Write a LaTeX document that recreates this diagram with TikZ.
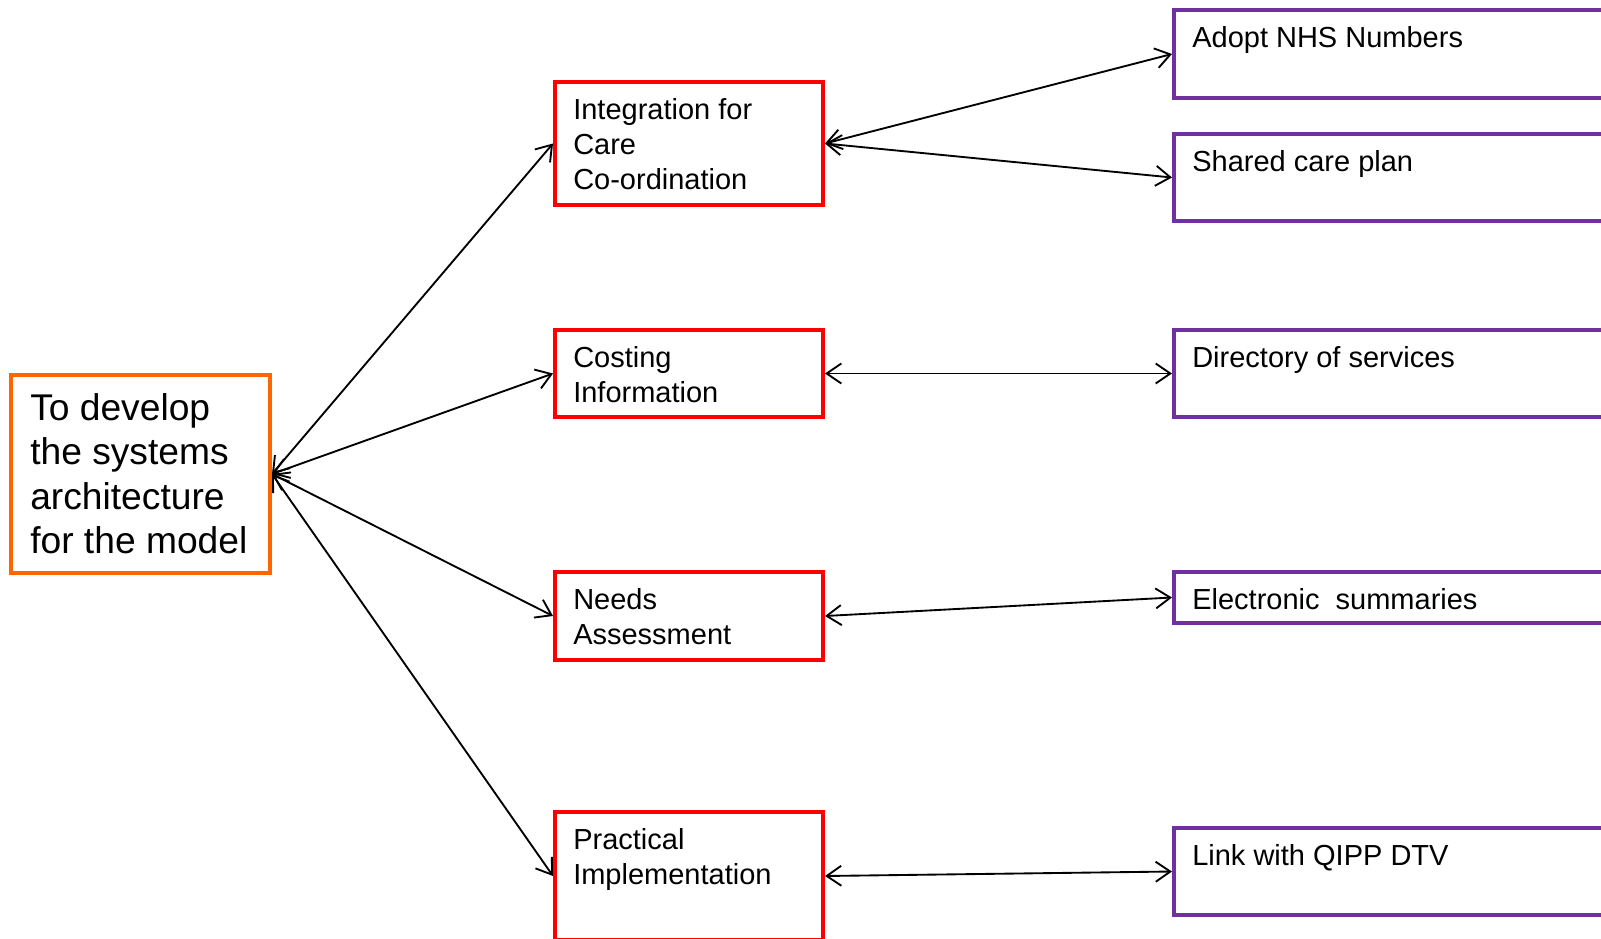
\documentclass[tikz,border=0pt]{standalone}
\usepackage{fontspec}
\setmainfont{Liberation Sans}
\usepackage{tikz}
\usetikzlibrary{arrows.meta}

\definecolor{goalorange}{RGB}{255,102,0}
\definecolor{areared}{RGB}{255,0,0}
\definecolor{taskpurple}{RGB}{112,48,160}

\tikzset{
	goalbox/.style={draw=goalorange, line width=3pt, minimum width=194.25pt, minimum height=148.5pt, anchor=north west},
	areabox/.style={draw=areared, line width=3pt, minimum width=201pt, anchor=north west},
	taskbox/.style={draw=taskpurple, line width=3pt, minimum width=394.5pt, anchor=north west},
	boxtext/.style={anchor=north west, align=left, inner sep=0pt, xshift=15pt, yshift=-13.5pt, font=\fontsize{21.75}{26.25}\selectfont},
	goaltext/.style={anchor=north west, align=left, inner sep=0pt, xshift=15.75pt, yshift=-15pt, font=\fontsize{27.9}{33.4}\selectfont},
	link/.style={{Straight Barb[length=11pt,width=15pt]}-{Straight Barb[length=11pt,width=15pt]}, line width=1.4pt}
}

\begin{document}
\begin{tikzpicture}[x=0.75pt, y=-0.75pt]
	\useasboundingbox (0,0) rectangle (1601,938);
	\node[goalbox, label={[goaltext]north west:{To develop\\the systems\\architecture\\for the model}}] (goal) at (9,373) {};
	\node[areabox, minimum height=92.25pt, label={[boxtext]north west:{Integration for\\Care\\Co-ordination}}] (integ) at (553,80) {};
	\node[areabox, minimum height=65.25pt, label={[boxtext]north west:{Costing\\Information}}] (cost) at (553,328) {};
	\node[areabox, minimum height=66pt, label={[boxtext]north west:{Needs\\Assessment}}] (needs) at (553,570) {};
	\node[areabox, minimum height=96pt, label={[boxtext]north west:{Practical\\Implementation}}] (pract) at (553,810) {};
	\node[taskbox, minimum height=66pt, label={[boxtext]north west:{Adopt NHS Numbers}}] (nhs) at (1172,8) {};
	\node[taskbox, minimum height=65.25pt, label={[boxtext]north west:{Shared care plan}}] (plan) at (1172,132) {};
	\node[taskbox, minimum height=65.25pt, label={[boxtext]north west:{Directory of services}}] (dir) at (1172,328) {};
	\node[taskbox, minimum height=38.25pt, label={[boxtext]north west:{Electronic~~summaries}}] (elec) at (1172,570) {};
	\node[taskbox, minimum height=65.25pt, label={[boxtext]north west:{Link with QIPP DTV}}] (qipp) at (1172,826) {};
	\draw[link] (goal.east) -- (integ.west);
	\draw[link] (goal.east) -- (cost.west);
	\draw[link] (goal.east) -- (needs.west);
	\draw[link] (goal.east) -- (pract.west);
	\draw[link] (integ.east) -- (nhs.west);
	\draw[link] (integ.east) -- (plan.west);
	\draw[link] (cost.east) -- (dir.west);
	\draw[link] (needs.east) -- (elec.west);
	\draw[link] (pract.east) -- (qipp.west);
\end{tikzpicture}
\end{document}
